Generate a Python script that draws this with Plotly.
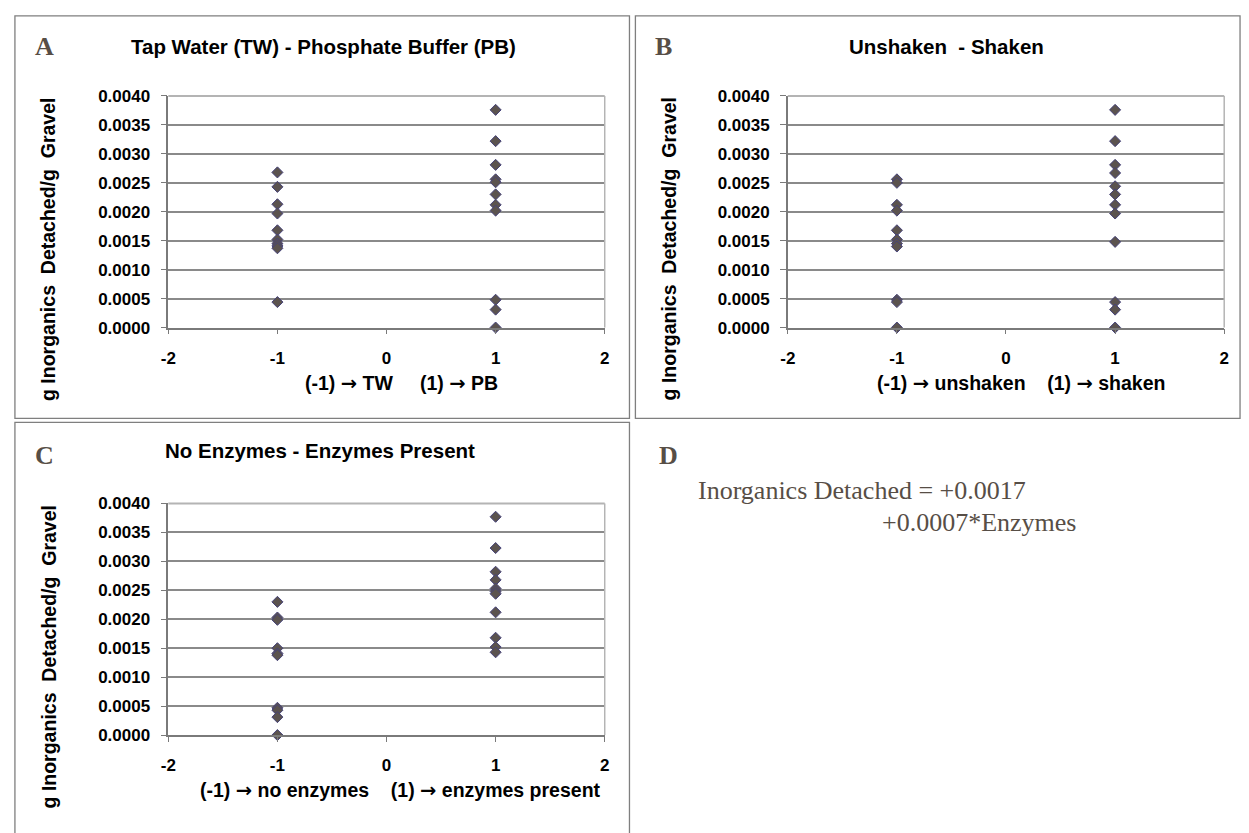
import plotly.graph_objects as go

W, H = 1249, 833

# ---------------- data ----------------
x_ticks = [-2, -1, 0, 1, 2]
y_ticks = [0.0, 0.0005, 0.0010, 0.0015, 0.0020, 0.0025, 0.0030, 0.0035, 0.0040]

a_low = [0.00268, 0.00243, 0.00213, 0.00197, 0.00168, 0.00152, 0.00145, 0.00141, 0.00137, 0.00044]
a_high = [0.00376, 0.00322, 0.00281, 0.00256, 0.00251, 0.00230, 0.00212, 0.00202, 0.00048, 0.00031, 0.0]

b_low = [0.00256, 0.00250, 0.00212, 0.00202, 0.00168, 0.00152, 0.00145, 0.00140, 0.00048, 0.00044, 0.0]
b_high = [0.00376, 0.00322, 0.00281, 0.00267, 0.00244, 0.00230, 0.00212, 0.00197, 0.00148, 0.00044, 0.00031, 0.0]

c_low = [0.00230, 0.00203, 0.00199, 0.00150, 0.00141, 0.00138, 0.00047, 0.00043, 0.00031, 0.0]
c_high = [0.00377, 0.00323, 0.00282, 0.00268, 0.00253, 0.00248, 0.00244, 0.00212, 0.00168, 0.00152, 0.00143]

ARROW = "<span style='font-family:DejaVu Sans'>\u2192</span>"
titles = ["Tap Water (TW) - Phosphate Buffer (PB)", "Unshaken\u00a0 - Shaken", "No Enzymes - Enzymes Present"]
xlabels = [f"(-1) {ARROW} TW\u00a0\u00a0\u00a0\u00a0 (1) {ARROW} PB",
           f"(-1) {ARROW} unshaken\u00a0\u00a0\u00a0 (1) {ARROW} shaken",
           f"(-1) {ARROW} no enzymes\u00a0\u00a0\u00a0 (1) {ARROW} enzymes present"]
ytitle = "g Inorganics\u00a0 Detached/g\u00a0 Gravel"
letters = ["A", "B", "C", "D"]
eq_line1 = "Inorganics Detached = +0.0017"
eq_line2 = "+0.0007*Enzymes"

# ---------------- layout helpers ----------------
def px(x):
    return x / W

def py(y):
    return 1 - y / H

SANS = "Liberation Sans, Arial, sans-serif"
SERIF = "Liberation Serif, Times New Roman, serif"
BROWN = "#574e46"
GRID = "#8a8a8a"

fig = go.Figure()

panels = [
    dict(low=a_low, high=a_high, xd=(162, 603), yd=(89, 326)),
    dict(low=b_low, high=b_high, xd=(788, 1229), yd=(89, 326)),
    dict(low=c_low, high=c_high, xd=(162, 603), yd=(506, 743)),
]

for i, p in enumerate(panels):
    n = "" if i == 0 else str(i + 1)
    xs = [-1] * len(p["low"]) + [1] * len(p["high"])
    ys = p["low"] + p["high"]
    fig.add_trace(go.Scatter(
        x=xs, y=ys, mode="markers", xaxis="x" + n, yaxis="y" + n,
        marker=dict(symbol="diamond", size=8.5, color="#5b534f",
                    line=dict(color="#46437a", width=1)),
        cliponaxis=False, showlegend=False, hoverinfo="x+y"))
    fig.layout["xaxis" + n] = dict(
        domain=[px(p["xd"][0]), px(p["xd"][1])], anchor="y" + n,
        range=[-2, 2], tickvals=x_ticks, ticktext=[str(v) for v in x_ticks],
        showgrid=False, zeroline=False, showline=True, linecolor="#7a7a7a", linewidth=1.5,
        ticks="outside", ticklen=5, tickcolor="#7a7a7a", tickwidth=1.2, ticklabelstandoff=9,
        tickfont=dict(family=SANS, size=17, color="#000", weight="bold"), fixedrange=True)
    fig.layout["yaxis" + n] = dict(
        domain=[py(p["yd"][1]), py(p["yd"][0])], anchor="x" + n,
        range=[0, 0.004], tickvals=y_ticks, tickformat=".4f",
        showgrid=True, gridcolor=GRID, gridwidth=1.5, zeroline=False,
        showline=True, linecolor="#7a7a7a", linewidth=1.5,
        ticks="outside", ticklen=6, tickcolor="#7a7a7a", tickwidth=1.2, ticklabelstandoff=7,
        tickfont=dict(family=SANS, size=17, color="#000", weight="bold"), fixedrange=True)

shapes = []
# lighter plot-area border (top and right)
for i in range(3):
    n = "" if i == 0 else str(i + 1)
    shapes.append(dict(type="line", xref="x" + n + " domain", yref="y" + n + " domain",
                       x0=0, x1=1, y0=1, y1=1, line=dict(color="#b4b4b4", width=2), layer="above"))
    shapes.append(dict(type="line", xref="x" + n + " domain", yref="y" + n + " domain",
                       x0=1, x1=1, y0=0, y1=1, line=dict(color="#b4b4b4", width=1.5), layer="above"))

# panel frames
BORDER = dict(color="#7f7f7f", width=1.3)
shapes.append(dict(type="rect", xref="paper", yref="paper", x0=px(7), x1=px(628), y0=py(419), y1=py(7), line=BORDER))
shapes.append(dict(type="rect", xref="paper", yref="paper", x0=px(634), x1=px(1245), y0=py(419), y1=py(7), line=BORDER))
shapes.append(dict(type="rect", xref="paper", yref="paper", x0=px(7), x1=px(628), y0=py(845), y1=py(423), line=BORDER))

ann = []
def text(x, y, s, size, family=SANS, color="#000", bold=True, angle=0, xanchor="center"):
    ann.append(dict(x=px(x), y=py(y), xref="paper", yref="paper", text=(f"<b>{s}</b>" if bold else s),
                    showarrow=False, xanchor=xanchor, yanchor="middle", textangle=angle,
                    font=dict(family=family, size=size, color=color)))

# titles
text(319, 38, titles[0], 20.5)
text(948, 38, titles[1], 20.5)
text(315, 452, titles[2], 20.5)
# x labels
text(398, 383, xlabels[0], 19.5)
text(1024, 383, xlabels[1], 19.5)
text(397, 800, xlabels[2], 19.5)
# y titles
text(41, 246, ytitle, 19.5, angle=-90)
text(668, 246, ytitle, 19.5, angle=-90)
text(41, 663, ytitle, 19.5, angle=-90)
# panel letters
text(37, 38, letters[0], 26, family=SERIF, color=BROWN)
text(662, 38, letters[1], 26, family=SERIF, color=BROWN)
text(37, 457, letters[2], 26, family=SERIF, color=BROWN)
text(667, 457, letters[3], 26, family=SERIF, color=BROWN)
# equation
text(695, 493, eq_line1, 26, family=SERIF, color=BROWN, bold=False, xanchor="left")
text(881, 525, eq_line2, 26, family=SERIF, color=BROWN, bold=False, xanchor="left")

fig.update_layout(width=W, height=H, autosize=False, margin=dict(l=0, r=0, t=0, b=0),
                  paper_bgcolor="white", plot_bgcolor="white", shapes=shapes, annotations=ann,
                  showlegend=False)

fig.write_html("out.html", config={"displayModeBar": False},
               post_script="document.body.style.margin='0';document.body.style.overflow='hidden';")
